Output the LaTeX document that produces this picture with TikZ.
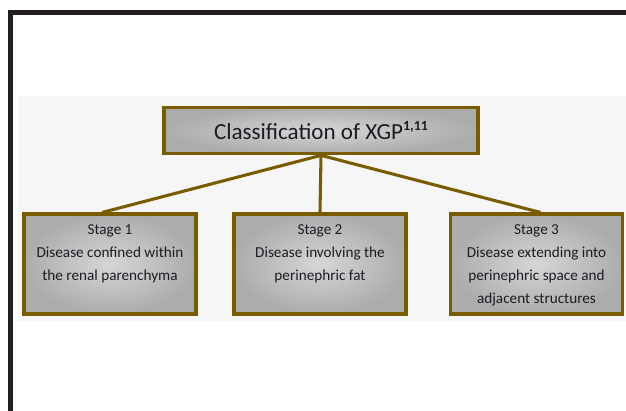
\documentclass[tikz,border=0pt]{standalone}
\usepackage{fontspec}
\setmainfont{Carlito}
\usetikzlibrary{calc}

\definecolor{frameedge}{RGB}{122,92,0}
\definecolor{boxlight}{RGB}{214,214,214}
\definecolor{boxdark}{RGB}{172,172,172}
\definecolor{panelgray}{RGB}{246,246,246}
\definecolor{inktext}{RGB}{28,28,36}

\newcommand{\stagefont}{\fontsize{11.4}{17.25}\selectfont}
\newcommand{\stagetext}[1]{\parbox[c][75pt][t]{127pt}{\centering\vspace*{3.5pt}\strut #1}}
\newcommand{\refmark}[1]{\raisebox{6.5pt}{\fontsize{10.5}{10.5}\selectfont\bfseries #1}}

\tikzset{every picture/.style={line width=0.75pt}}
\tikzset{
  classbox/.style={draw=frameedge, line width=2.3pt, inner color=boxlight, outer color=boxdark,
    text=inktext, inner sep=0pt, align=center},
  stagebox/.style={classbox, minimum width=129pt, minimum height=75pt, font=\stagefont},
  link/.style={draw=frameedge, line width=2.3pt},
}

\begin{document}
\begin{tikzpicture}[x=0.75pt,y=0.75pt,yscale=-1,xscale=1]
\useasboundingbox (0,0) rectangle (626,411);

%Shape: Rectangle [id:outer frame]
\draw [color={rgb, 255:red, 35; green, 31; blue, 32 }, line width=3.75pt] (10,12.5) rectangle (660,440) ;
%Shape: Rectangle [id:panel]
\fill [panelgray] (18,96) rectangle (626,321) ;

% Title Node
\node [classbox, minimum width=235.5pt, minimum height=35pt, font=\fontsize{17.3}{20}\selectfont] (title) at (321,130.5)
  {Classification of XGP\refmark{1,11}};

% Stage Nodes
\node [stagebox] (s1) at (110,264) {\stagetext{Stage 1\\ Disease confined within\\ the renal parenchyma}};
\node [stagebox] (s2) at (320,264) {\stagetext{Stage 2\\ Disease involving the\\ perinephric fat}};
\node [stagebox] (s3) at (536.5,264) {\stagetext{Stage 3\\ Disease extending into\\ perinephric space and\\ adjacent structures}};

%Straight Lines
\draw [link] (title.south) -- ($(s1.north)+(-8,0)$) ;
\draw [link] (title.south) -- (s2.north) ;
\draw [link] (title.south) -- ($(s3.north)+(4,0)$) ;

\end{tikzpicture}
\end{document}
